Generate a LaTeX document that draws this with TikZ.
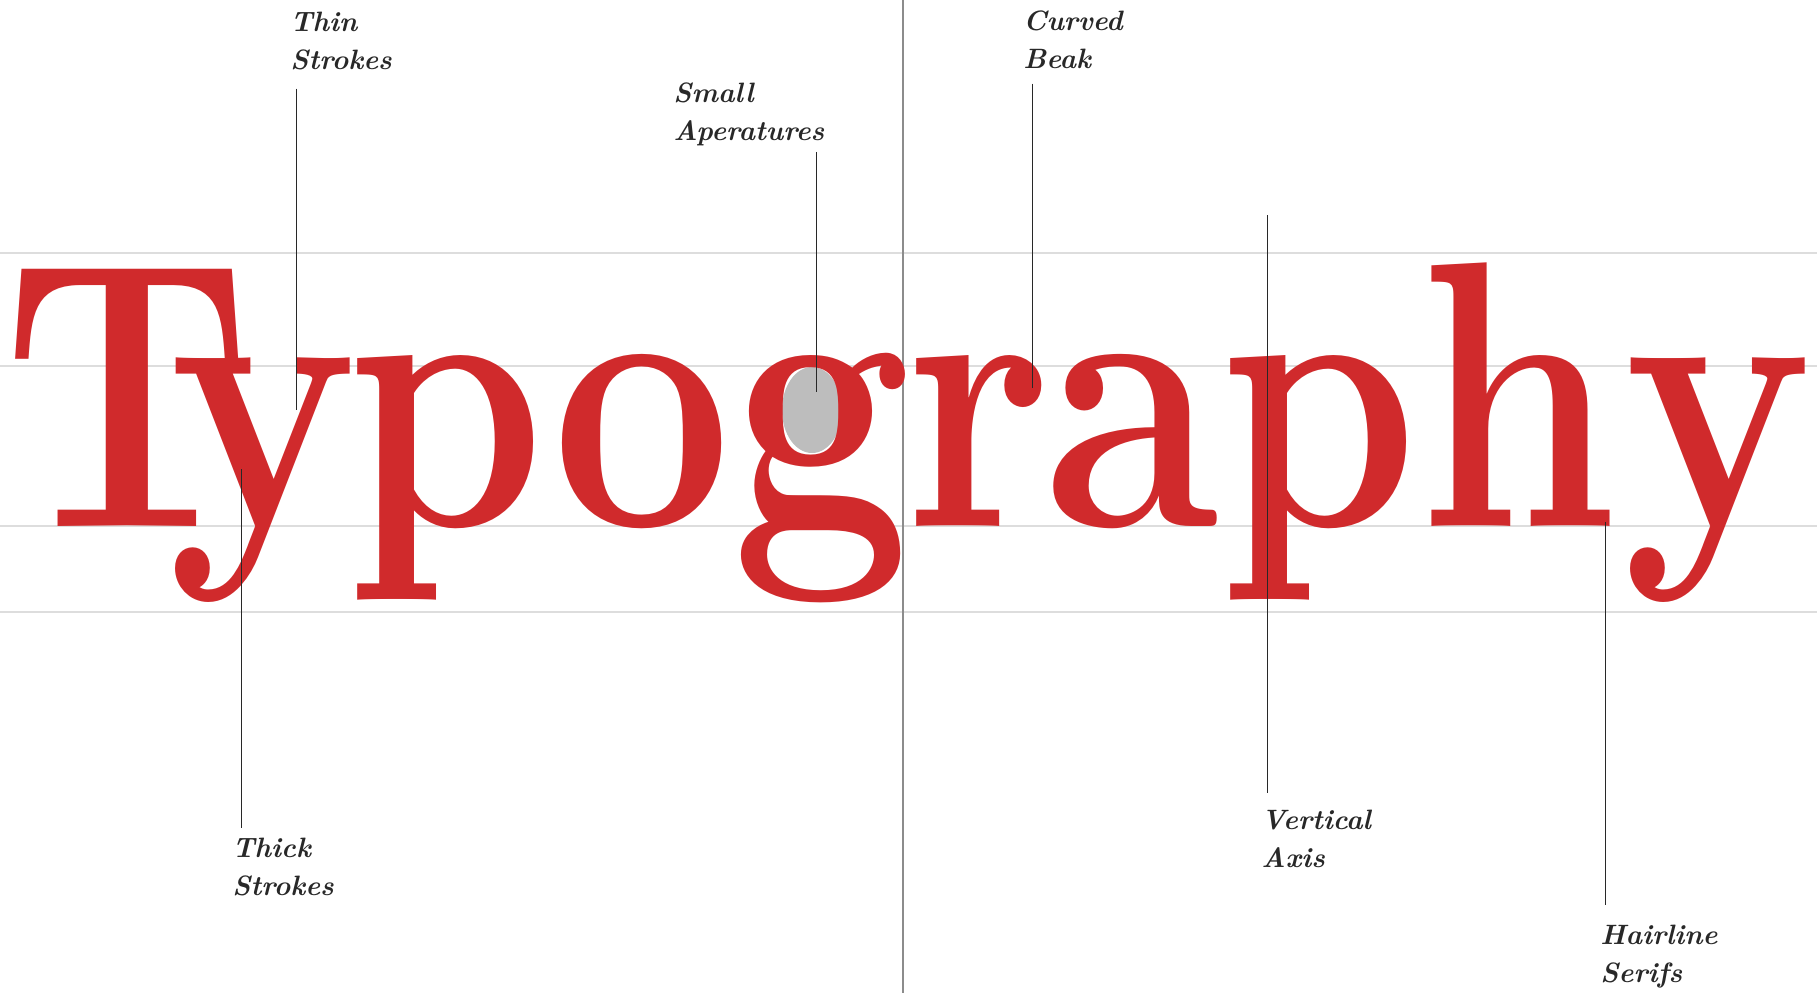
\documentclass[tikz,border=0pt]{standalone}
\usepackage{graphicx}
\usetikzlibrary{calc}
\definecolor{typered}{RGB}{208,42,44}
\definecolor{guidegray}{RGB}{221,221,221}
\definecolor{axisgray}{RGB}{140,140,140}
\definecolor{countergray}{RGB}{189,189,189}
\definecolor{inkgray}{RGB}{40,40,40}
\begin{document}
\begin{tikzpicture}[x=0.5pt, y=-0.5pt,
    guide/.style={guidegray, line width=0.75pt},
    leader/.style={inkgray, line width=0.5pt},
    lbl/.style={inkgray, inner sep=0pt, anchor=north west, align=left,
      font=\fontsize{14}{19}\selectfont\bfseries\itshape},
    word/.style={typered, inner sep=0pt, anchor=base west,
      font=\fontsize{190}{190}\selectfont\bfseries}]
    \useasboundingbox (0,0) rectangle (1817,993);
    % guide lines: cap height, x-height, baseline, descender
    \foreach \y in {253, 366, 526, 612}
        \draw[guide] (0,\y) -- (1817,\y);
    \draw[axisgray, line width=0.75pt] (903,0) -- (903,993);
    % counter of the g
    \fill[countergray] (812,410) ellipse (30 and 43);
    \node[word] (word) at (2,526)
        {\scalebox{0.84}[1]{T\kern-50pt y\kern-6.5pt p\kern3.6pt og\kern-3.6pt r\kern-4.8pt aph\kern3.6pt y}};
    % labels
    \node[lbl] (thin) at (290,12) {Thin\\Strokes};
    \node[lbl] (aper) at (673,82) {Small\\Aperatures};
    \node[lbl] (beak) at (1023,10) {Curved\\Beak};
    \node[lbl] (thick) at (232,838) {Thick\\Strokes};
    \node[lbl] (axis) at (1261,810) {Vertical\\Axis};
    \node[lbl] (hair) at (1600,925) {Hairline\\Serifs};
    % leader tips
    \coordinate (thin-tip) at (296,410);
    \coordinate (aper-tip) at (816,392);
    \coordinate (beak-tip) at (1032,388);
    \coordinate (thick-tip) at (241,469);
    \coordinate (axis-tip) at (1267,215);
    \coordinate (hair-tip) at (1605,522);
    \draw[leader] ($(thin.south -| thin-tip)+(0,18)$) -- (thin-tip);
    \draw[leader] ($(aper.south -| aper-tip)+(0,6)$) -- (aper-tip);
    \draw[leader] ($(beak.south -| beak-tip)+(0,15)$) -- (beak-tip);
    \draw[leader] (thick-tip) -- ($(thick.north -| thick-tip)+(0,-10)$);
    \draw[leader] (axis-tip) -- ($(axis.north -| axis-tip)+(0,-17)$);
    \draw[leader] (hair-tip) -- ($(hair.north -| hair-tip)+(0,-20)$);
\end{tikzpicture}
\end{document}
